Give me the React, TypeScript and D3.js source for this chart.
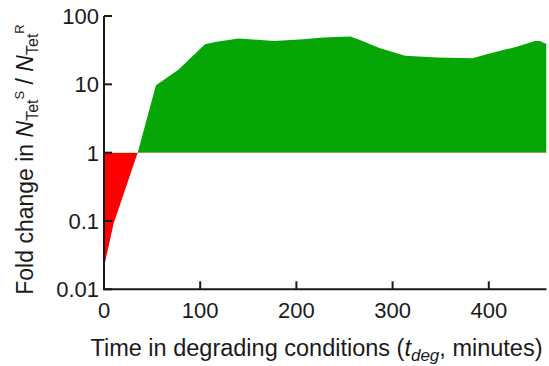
import React from "react";
import * as d3 from "d3";

const times = [0, 10, 35, 54, 77, 105, 117, 140, 177, 207, 228, 256, 266, 287, 313, 346, 383, 398, 429, 448, 453, 460];
const values = [0.021, 0.092, 1.0, 9.7, 16.2, 38.5, 42, 47, 43, 45.6, 48.3, 50, 44.5, 33.6, 26.3, 24.6, 24, 27.5, 35.6, 43, 43, 39];
const yTicks = [0.01, 0.1, 1, 10, 100];
const yTickLabels = ["0.01", "0.1", "1", "10", "100"];
const xTicks = [0, 100, 200, 300, 400];
const xTickLabels = ["0", "100", "200", "300", "400"];

const W = 549;
const H = 366;
const left = 104;
const right = 546.5;
const top = 16;
const bottom = 289.3;
const FONT = "'Liberation Sans', Arial, sans-serif";

export default function App() {
  const x = d3.scaleLinear().domain([0, 460]).range([left, right]);
  const y = d3.scaleLog().domain([0.01, 100]).range([bottom, top]);
  const data = times.map((t, i) => ({ t, v: values[i] }));
  const area = d3
    .area<{ t: number; v: number }>()
    .x((d) => x(d.t))
    .y0(y(1))
    .y1((d) => y(d.v));
  const path = area(data) || "";
  const y1 = y(1);

  return (
    <svg
      width={W}
      height={H}
      style={{ position: "absolute", left: 0, top: 0, display: "block", background: "#fff" }}
    >
      <defs>
        <clipPath id="above">
          <rect x={left} y={0} width={right - left} height={y1} />
        </clipPath>
        <clipPath id="below">
          <rect x={left} y={y1} width={right - left} height={H - y1} />
        </clipPath>
      </defs>
      <path d={path} fill="#05a605" clipPath="url(#above)" />
      <path d={path} fill="#ff0000" clipPath="url(#below)" />

      {/* axes */}
      <path
        d={`M${left},${top}V${bottom}H${right}`}
        fill="none"
        stroke="#1a1a1a"
        strokeWidth={2}
      />
      {yTicks.map((t, i) => (
        <g key={"yt" + i}>
          <line x1={left} x2={left + 8} y1={y(t)} y2={y(t)} stroke="#1a1a1a" strokeWidth={2} />
          <text
            x={left - 5}
            y={y(t)}
            dy="0.36em"
            textAnchor="end"
            fontFamily={FONT}
            fontSize={22}
            fill="#1a1a1a"
          >
            {yTickLabels[i]}
          </text>
        </g>
      ))}
      {xTicks.map((t, i) => (
        <g key={"xt" + i}>
          {t !== 0 && (
            <line x1={x(t)} x2={x(t)} y1={bottom} y2={bottom - 8} stroke="#1a1a1a" strokeWidth={2} />
          )}
          <text
            x={x(t)}
            y={318}
            textAnchor="middle"
            fontFamily={FONT}
            fontSize={22}
            fill="#1a1a1a"
          >
            {xTickLabels[i]}
          </text>
        </g>
      ))}

      {/* x label */}
      <text
        x={(85 + 548) / 2}
        y={356}
        textAnchor="middle"
        fontFamily={FONT}
        fontSize={23.5}
        fill="#1a1a1a"
      >
        Time in degrading conditions (
        <tspan fontStyle="italic">t</tspan>
        <tspan fontStyle="italic" fontSize={17} dy={5}>deg</tspan>
        <tspan dy={-5}>, minutes)</tspan>
      </text>

      {/* y label */}
      <text
        transform={`translate(33,${(17 + 302) / 2}) rotate(-90)`}
        textAnchor="middle"
        fontFamily={FONT}
        fontSize={23}
        fill="#1a1a1a"
      >
        Fold change in <tspan fontStyle="italic">N</tspan>
        <tspan fontSize={16} dy={5}>Tet</tspan>
        <tspan fontSize={13} dy={-14}>S</tspan>
        <tspan dy={9}> / </tspan>
        <tspan fontStyle="italic">N</tspan>
        <tspan fontSize={16} dy={5}>Tet</tspan>
        <tspan fontSize={13} dy={-14}>R</tspan>
      </text>
    </svg>
  );
}
